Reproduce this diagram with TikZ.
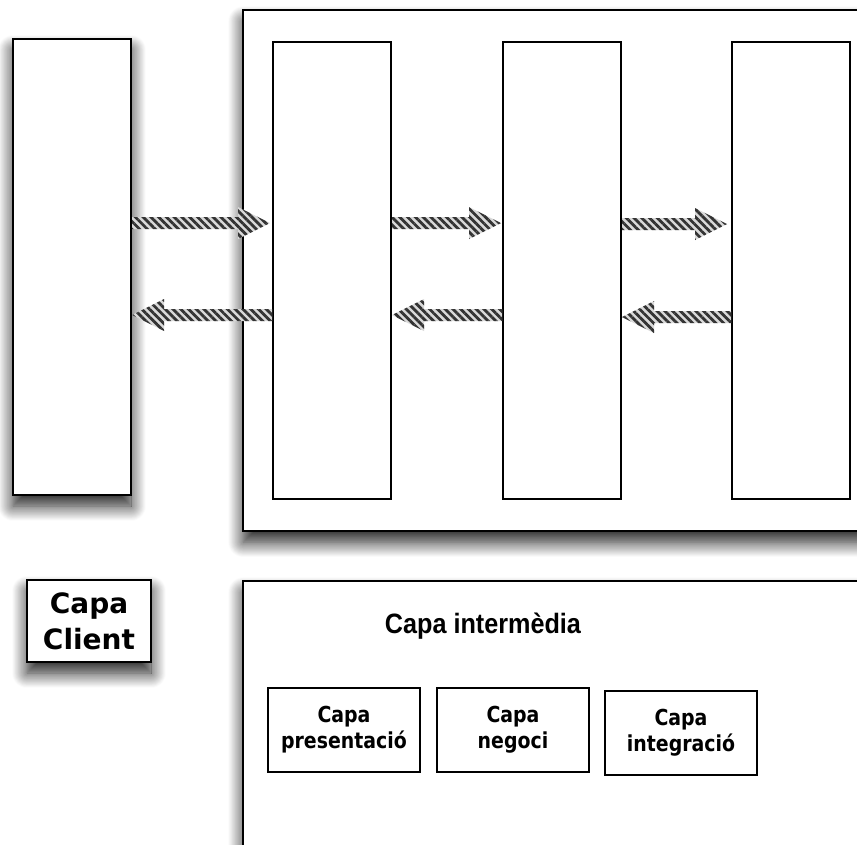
\documentclass[tikz,border=0pt]{standalone}
\usepackage{fontspec}
\newfontfamily\boxfont{DejaVu Sans}
\newfontfamily\tagfont[FakeStretch=0.86]{DejaVu Sans}
\newfontfamily\headfont[FakeStretch=0.9]{Liberation Sans}
\usetikzlibrary{positioning,calc,patterns.meta,shadows.blur}

\begin{document}
\begin{tikzpicture}[x=1pt, y=-1pt,
    layer/.style={rectangle, draw, line width=2.4pt, fill=white, inner sep=0pt},
    shadowed/.style={blur shadow={shadow xshift=0pt, shadow yshift=-11pt, shadow blur radius=15pt,
        shadow blur steps=20, shadow opacity=90}},
    column/.style={layer, line width=2pt, minimum width=118pt, minimum height=457pt},
    tag/.style={rectangle, draw, line width=2pt, fill=white, align=center, inner sep=0pt,
        minimum width=152pt, minimum height=84pt, font=\tagfont\bfseries\fontsize{22}{26}\selectfont},
    fat/.style={preaction={fill=black!15}, pattern={Lines[angle=-45, distance=5.5pt, line width=2.8pt]},
        pattern color=black!80,
        to path={let \p1=(\tikztostart), \p2=(\tikztotarget), \n1={sign(\x2-\x1)} in
            (\x1,\y1+6pt) -- (\x2-\n1*32pt,\y1+6pt) -- (\x2-\n1*32pt,\y1+16pt) -- (\x2,\y1)
            -- (\x2-\n1*32pt,\y1-16pt) -- (\x2-\n1*32pt,\y1-6pt) -- (\x1,\y1-6pt) -- cycle}}]

    \useasboundingbox (0,0) rectangle (857,844);

    % upper part: tiers and the calls between them
    \node[layer, shadowed, anchor=north west, minimum width=660pt, minimum height=521pt] (middle) at (242,9) {};
    \node[layer, shadowed, minimum width=118pt, minimum height=456pt] (client) at (72,267) {};
    \node[column] (pres) at (332,270) {};
    \node[column, right=110pt of pres] (neg) {};
    \node[column, right=109pt of neg] (integ) {};

    \path[fat] ([yshift=44pt]client.east) to ([xshift=-2pt]pres.west);
    \path[fat] ([yshift=-45pt]pres.west) to (client.east);
    \path[fat] ([yshift=47pt]pres.east) to ([xshift=-1pt]neg.west);
    \path[fat] ([yshift=-45pt]neg.west) to (pres.east);
    \path[fat] ([yshift=46pt]neg.east) to ([xshift=-4pt]integ.west);
    \path[fat] ([yshift=-47pt]integ.west) to (neg.east);

    % lower part: legend
    \node[layer, shadowed, minimum width=124pt, minimum height=82pt, align=center,
        font=\boxfont\bfseries\fontsize{28}{36}\selectfont] (clienttag) at (89,621) {Capa\\Client};
    \node[layer, shadowed, anchor=north west, minimum width=660pt, minimum height=320pt] (middletag) at (242,580) {};
    \node[font=\headfont\bfseries\fontsize{28}{32}\selectfont, anchor=base] (midtitle) at (483,633) {Capa intermèdia};
    \node[tag] (prestag) at (344,730) {Capa\\presentació};
    \node[tag] (negtag) at (513,730) {Capa\\negoci};
    \node[tag] (integtag) at (681,733) {Capa\\integració};
\end{tikzpicture}
\end{document}
